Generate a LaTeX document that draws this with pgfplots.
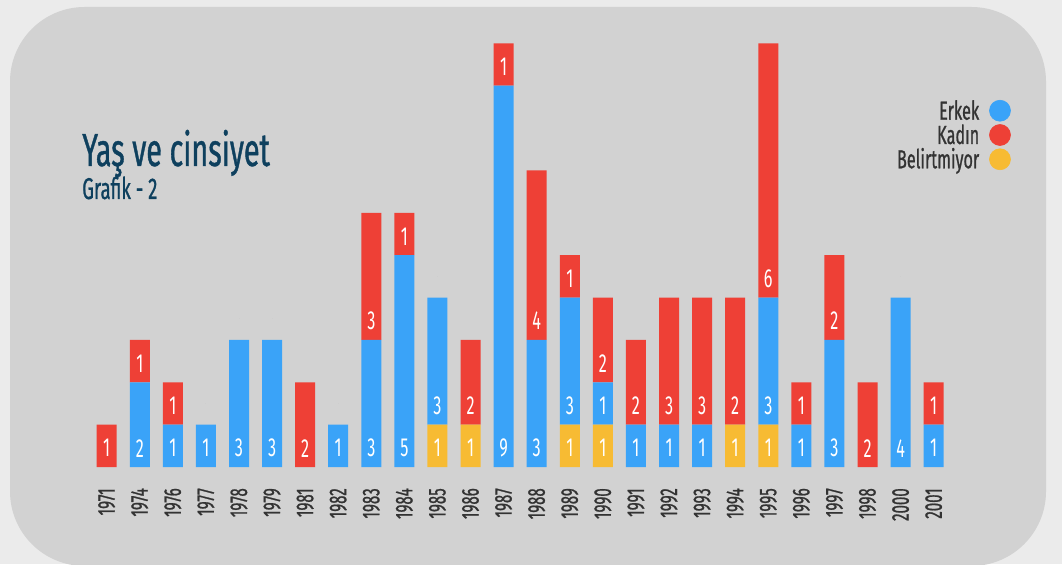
\documentclass[border=0pt]{standalone}
\usepackage{pgfplots}
\usepackage{pgfplotstable}
\pgfplotsset{compat=1.18}
\usepackage{fontspec}
\setmainfont{Fira Sans}[FakeStretch=0.62]
\newfontfamily\semib{Fira Sans}[FakeStretch=0.62, FakeBold=0.8]

\definecolor{outerbg}{HTML}{EBEBEB}
\definecolor{panel}{HTML}{D2D2D2}
\definecolor{cblue}{HTML}{3AA3F8}
\definecolor{cred}{HTML}{EE4036}
\definecolor{cyellow}{HTML}{F7BB33}
\definecolor{titleblue}{HTML}{0E405E}
\definecolor{textdark}{HTML}{333333}

% x = category index (0 = 1971 ... 25 = 2001)
% bel = Belirtmiyor, erk = Erkek, kad = Kadın, klab = label printed on the Kadın bar
\pgfplotstableread{
x bel erk kad klab
0 0 0 1 1
1 0 2 1 1
2 0 1 1 1
3 0 1 0 0
4 0 3 0 0
5 0 3 0 0
6 0 0 2 2
7 0 1 0 0
8 0 3 3 3
9 0 5 1 1
10 1 3 0 0
11 1 0 2 2
12 0 9 1 1
13 0 3 4 4
14 1 3 1 1
15 1 1 2 2
16 0 1 2 2
17 0 1 3 3
18 0 1 3 3
19 1 0 3 2
20 1 3 6 6
21 0 1 1 1
22 0 3 2 2
23 0 0 2 2
24 0 4 0 0
25 0 1 1 1
}\tbl

\pgfplotsset{
    base/.style={
        at={(55.2pt,72.75pt)},
        anchor=south west,
        x=24.81pt, y=31.78pt,
        xmin=-1, xmax=27,
        ymin=0, ymax=10.5,
        clip=false,
        axis line style={draw=none},
        major tick length=0pt,
        ytick=\empty,
    },
    lbl/.style={
        only marks, mark=*, mark size=0pt, mark options={draw=none, fill=none},
        point meta=explicit symbolic,
        nodes near coords={\ifnum\pgfplotspointmeta>0 \pgfplotspointmeta\fi},
        every node near coord/.append style={anchor=center, inner sep=0pt,
            text=white, font=\fontsize{19.6}{20}\selectfont, yshift=-1.8pt},
    },
}

\begin{document}
\begin{tikzpicture}
\useasboundingbox (0,0) rectangle (796.5pt,423pt);
\fill[outerbg] (0,0) rectangle (796.5pt,423pt);
\fill[panel, rounded corners=56pt] (7.5pt,-1.5pt) rectangle (784.5pt,417.75pt);

\node[anchor=base west, inner sep=0pt, text=titleblue,
      font=\semib\fontsize{34.8}{36}\selectfont] at (61.5pt,298.5pt) {Yaş ve cinsiyet};
\node[anchor=base west, inner sep=0pt, text=titleblue,
      font=\semib\fontsize{22.5}{24}\selectfont] at (61.5pt,273.75pt) {Grafik - 2};

\begin{axis}[
    base,
    ybar stacked,
    bar width=15pt,
    xtick={0,...,25},
    xticklabels={1971,1974,1976,1977,1978,1979,1981,1982,1983,1984,1985,1986,1987,1988,1989,1990,1991,1992,1993,1994,1995,1996,1997,1998,2000,2001},
    xticklabel shift=15.75pt,
    xticklabel style={rotate=90, anchor=east, inner sep=0pt, text=textdark,
        font=\semib\fontsize{18.2}{19}\selectfont},
    legend plot pos=right,
    legend cell align=right,
    legend style={at={(1.0121,0.7462)}, anchor=east, draw=none, fill=none,
        inner sep=0pt, row sep=0pt, column sep=7.5pt, text=textdark,
        font=\semib\fontsize{19.6}{20}\selectfont,
        nodes={inner sep=0pt, text height=15.85pt, text depth=2.35pt}},
]
\addlegendimage{legend image code/.code={\fill[cblue] (0pt,0pt) circle (7.9pt);}}
\addlegendimage{legend image code/.code={\fill[cred] (0pt,0pt) circle (7.9pt);}}
\addlegendimage{legend image code/.code={\fill[cyellow] (0pt,0pt) circle (7.9pt);}}
\legend{Erkek, Kadın, Belirtmiyor}

\addplot[fill=cyellow, draw=none] table[x=x, y=bel] {\tbl};
\addplot[fill=cblue, draw=none] table[x=x, y=erk] {\tbl};
\addplot[fill=cred, draw=none] table[x=x, y=kad] {\tbl};
\end{axis}

% value labels, at the foot of each segment
\begin{axis}[base, xtick=\empty]
\addplot[lbl] table[x=x, y expr=0.5, meta=bel] {\tbl};
\addplot[lbl] table[x=x, y expr=\thisrow{bel}+0.5, meta=erk] {\tbl};
\addplot[lbl] table[x=x, y expr=\thisrow{bel}+\thisrow{erk}+0.5, meta=klab] {\tbl};
\end{axis}
\end{tikzpicture}
\end{document}
